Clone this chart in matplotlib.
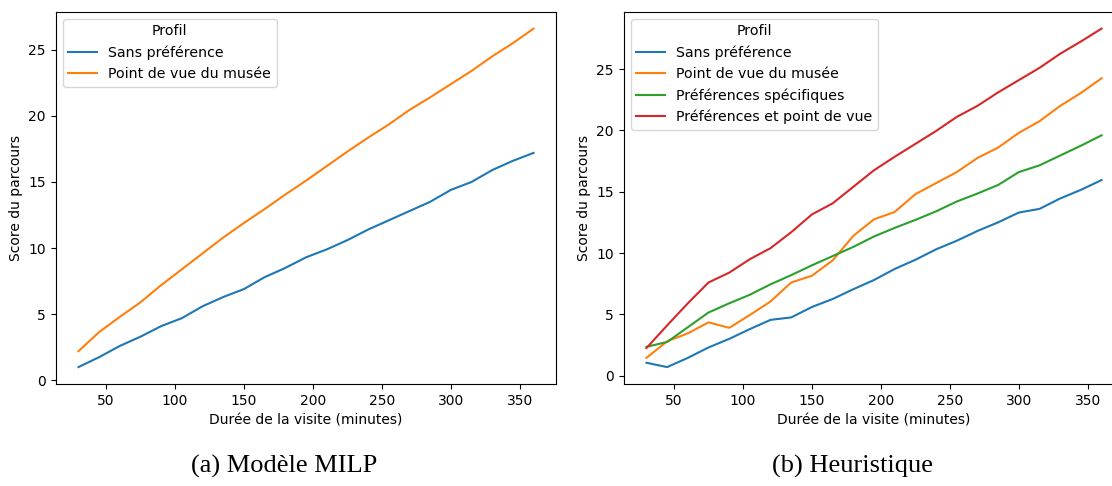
import matplotlib
matplotlib.use("Agg")
import matplotlib.pyplot as plt

durations = [30, 45, 60, 75, 90, 105, 120, 135, 150, 165, 180, 195,
             210, 225, 240, 255, 270, 285, 300, 315, 330, 345, 360]

milp_sans = [1.0, 1.75, 2.6, 3.3, 4.1, 4.7, 5.6, 6.3, 6.9, 7.8, 8.5, 9.3,
             9.9, 10.6, 11.4, 12.1, 12.8, 13.5, 14.4, 15.0, 15.9, 16.6, 17.2]
milp_musee = [2.2, 3.65, 4.8, 5.9, 7.2, 8.4, 9.6, 10.8, 11.9, 12.95, 14.05, 15.1,
              16.2, 17.3, 18.35, 19.35, 20.45, 21.4, 22.4, 23.4, 24.5, 25.5, 26.6]

heur_sans = [1.05, 0.7, 1.45, 2.3, 3.0, 3.8, 4.55, 4.75, 5.6, 6.25, 7.05, 7.8,
             8.7, 9.45, 10.3, 11.0, 11.8, 12.5, 13.3, 13.6, 14.45, 15.15, 15.95]
heur_musee = [1.45, 2.8, 3.45, 4.35, 3.9, 4.95, 6.05, 7.6, 8.15, 9.4, 11.4, 12.75,
              13.35, 14.8, 15.7, 16.6, 17.75, 18.6, 19.8, 20.75, 22.0, 23.05, 24.25]
heur_specif = [2.35, 2.75, 3.95, 5.15, 5.9, 6.6, 7.45, 8.2, 9.0, 9.75, 10.5, 11.35,
               12.05, 12.7, 13.4, 14.2, 14.85, 15.55, 16.6, 17.15, 17.95, 18.75, 19.6]
heur_pref_vue = [2.25, 4.1, 5.9, 7.6, 8.4, 9.5, 10.4, 11.7, 13.15, 14.05, 15.4, 16.75,
                 17.85, 18.9, 19.95, 21.1, 22.0, 23.1, 24.1, 25.1, 26.25, 27.25, 28.3]

labels = ["Sans préférence", "Point de vue du musée",
          "Préférences spécifiques", "Préférences et point de vue"]
captions = ["(a) Modèle MILP", "(b) Heuristique"]
xlabel = "Durée de la visite (minutes)"
ylabel = "Score du parcours"
legend_title = "Profil"

colors = ["#1f77b4", "#ff7f0e", "#2ca02c", "#d62728"]

W, H = 1112, 486
fig = plt.figure(figsize=(W / 100, H / 100), dpi=100)

bottom = 1 - 384 / H
height = (384 - 11.7) / H
width = (556.3 - 55.7) / W
ax1 = fig.add_axes([55.7 / W, bottom, width, height])
ax2 = fig.add_axes([623.7 / W, bottom, width, height])

for ys, lab, c in zip([milp_sans, milp_musee], labels, colors):
    ax1.plot(durations, ys, color=c, lw=1.5, label=lab)
for ys, lab, c in zip([heur_sans, heur_musee, heur_specif, heur_pref_vue], labels, colors):
    ax2.plot(durations, ys, color=c, lw=1.5, label=lab)

for ax in (ax1, ax2):
    ax.set_xlabel(xlabel, fontsize=10)
    ax.set_ylabel(ylabel, fontsize=10)
    ax.tick_params(labelsize=10)
    ax.legend(title=legend_title, loc="upper left", fontsize=10.2, title_fontsize=10.2)

fig.text(284 / W, 1 - 466 / H, captions[0], ha="center", va="center",
         family="Liberation Serif", fontsize=19)
fig.text(853 / W, 1 - 466 / H, captions[1], ha="center", va="center",
         family="Liberation Serif", fontsize=19)

fig.savefig("out.png", dpi=100)
